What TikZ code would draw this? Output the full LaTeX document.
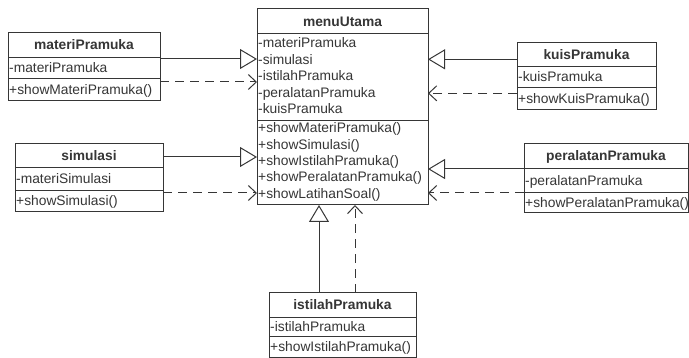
\documentclass[tikz,border=0pt]{standalone}
\usepackage{fontspec}
\setmainfont{Liberation Sans}
\usetikzlibrary{arrows.meta}
\definecolor{ink}{HTML}{363636}
\begin{document}
\begin{tikzpicture}[x=1pt,y=-1pt,
  cls/.style={draw=ink, line width=1pt, fill=white, inner sep=0pt, outer sep=0pt, anchor=north west},
  txt/.style={anchor=base west, inner sep=0pt, text=ink, font=\fontsize{13.8}{16}\selectfont},
  ttl/.style={anchor=base, inner sep=0pt, text=ink, font=\fontsize{13.8}{16}\selectfont\bfseries},
  sep/.style={draw=ink, line width=1pt},
  gen/.style={draw=ink, line width=1pt, -{Triangle[open, length=17pt, width=20pt]}},
  dep/.style={draw=ink, line width=1pt, dash pattern=on 9pt off 6pt, -{Straight Barb[length=8pt, width=15pt]}},
]
\useasboundingbox (0,0) rectangle (689,358);

% ---------- menuUtama ----------
\node[cls, minimum width=171pt, minimum height=196pt] (menu) at (257,9) {};
\draw[sep] (257,34) -- (428,34);
\draw[sep] (257,121) -- (428,121);
\node[ttl] (menuT) at (342.5,27) {menuUtama};
\node[txt] (ma1) at (258,48)   {-materiPramuka};
\node[txt] (ma2) at (258,64.4) {-simulasi};
\node[txt] (ma3) at (258,80.8) {-istilahPramuka};
\node[txt] (ma4) at (258,97.2) {-peralatanPramuka};
\node[txt] (ma5) at (258,113.6){-kuisPramuka};
\node[txt] (mm1) at (258,133)  {+showMateriPramuka()};
\node[txt] (mm2) at (258,149.3){+showSimulasi()};
\node[txt] (mm3) at (258,165.6){+showIstilahPramuka()};
\node[txt] (mm4) at (258,181.9){+showPeralatanPramuka()};
\node[txt] (mm5) at (258,198.2){+showLatihanSoal()};

% ---------- materiPramuka ----------
\node[cls, minimum width=152pt, minimum height=68pt] (materi) at (8,33) {};
\draw[sep] (8,58) -- (160,58);
\draw[sep] (8,79) -- (160,79);
\node[ttl] (materiT) at (84,50) {materiPramuka};
\node[txt] (materiA) at (9,72.5) {-materiPramuka};
\node[txt] (materiM) at (9,94.5) {+showMateriPramuka()};

% ---------- kuisPramuka ----------
\node[cls, minimum width=139pt, minimum height=67pt] (kuis) at (517,43) {};
\draw[sep] (517,67) -- (656,67);
\draw[sep] (517,88) -- (656,88);
\node[ttl] (kuisT) at (586.5,59.5) {kuisPramuka};
\node[txt] (kuisA) at (518,82) {-kuisPramuka};
\node[txt] (kuisM) at (518,104) {+showKuisPramuka()};

% ---------- simulasi ----------
\node[cls, minimum width=148pt, minimum height=68pt] (simul) at (15,144) {};
\draw[sep] (15,168) -- (163,168);
\draw[sep] (15,191) -- (163,191);
\node[ttl] (simulT) at (89,160.5) {simulasi};
\node[txt] (simulA) at (16,184) {-materiSimulasi};
\node[txt] (simulM) at (16,206) {+showSimulasi()};

% ---------- peralatanPramuka ----------
\node[cls, minimum width=164pt, minimum height=69pt] (peral) at (524,144) {};
\draw[sep] (524,169) -- (688,169);
\draw[sep] (524,193) -- (688,193);
\node[ttl] (peralT) at (606,161) {peralatanPramuka};
\node[txt] (peralA) at (525,185.5) {-peralatanPramuka};
\node[txt] (peralM) at (525,207.5) {+showPeralatanPramuka()};

% ---------- istilahPramuka ----------
\node[cls, minimum width=147pt, minimum height=64.5pt] (istil) at (269,293) {};
\draw[sep] (269,318) -- (416,318);
\draw[sep] (269,337) -- (416,337);
\node[ttl] (istilT) at (342.5,310) {istilahPramuka};
\node[txt] (istilA) at (270,331.5) {-istilahPramuka};
\node[txt] (istilM) at (270,352) {+showIstilahPramuka()};

% ---------- connector levels ----------
\coordinate (yMg) at (0,59);
\coordinate (yMd) at (0,82);
\coordinate (yKg) at (0,59.3);
\coordinate (yKd) at (0,93.3);
\coordinate (ySg) at (0,157);
\coordinate (ySd) at (0,193);
\coordinate (yPg) at (0,169);
\coordinate (yPd) at (0,193);
\coordinate (xIg) at (319,0);
\coordinate (xId) at (355,0);

% ---------- generalizations ----------
\draw[gen] (materi.east |- yMg) -- (menu.west |- yMg);
\draw[gen] (kuis.west |- yKg) -- (menu.east |- yKg);
\draw[gen] (simul.east |- ySg) -- (menu.west |- ySg);
\draw[gen] (peral.west |- yPg) -- (menu.east |- yPg);
\draw[gen] (xIg |- istil.north) -- (xIg |- menu.south);

% ---------- dependencies ----------
\draw[dep] (materi.east |- yMd) -- (menu.west |- yMd);
\draw[dep] (kuis.west |- yKd) -- (menu.east |- yKd);
\draw[dep] (simul.east |- ySd) -- (menu.west |- ySd);
\draw[dep] (peral.west |- yPd) -- (menu.east |- yPd);
\draw[dep] (xId |- istil.north) -- (xId |- menu.south);
\end{tikzpicture}
\end{document}
